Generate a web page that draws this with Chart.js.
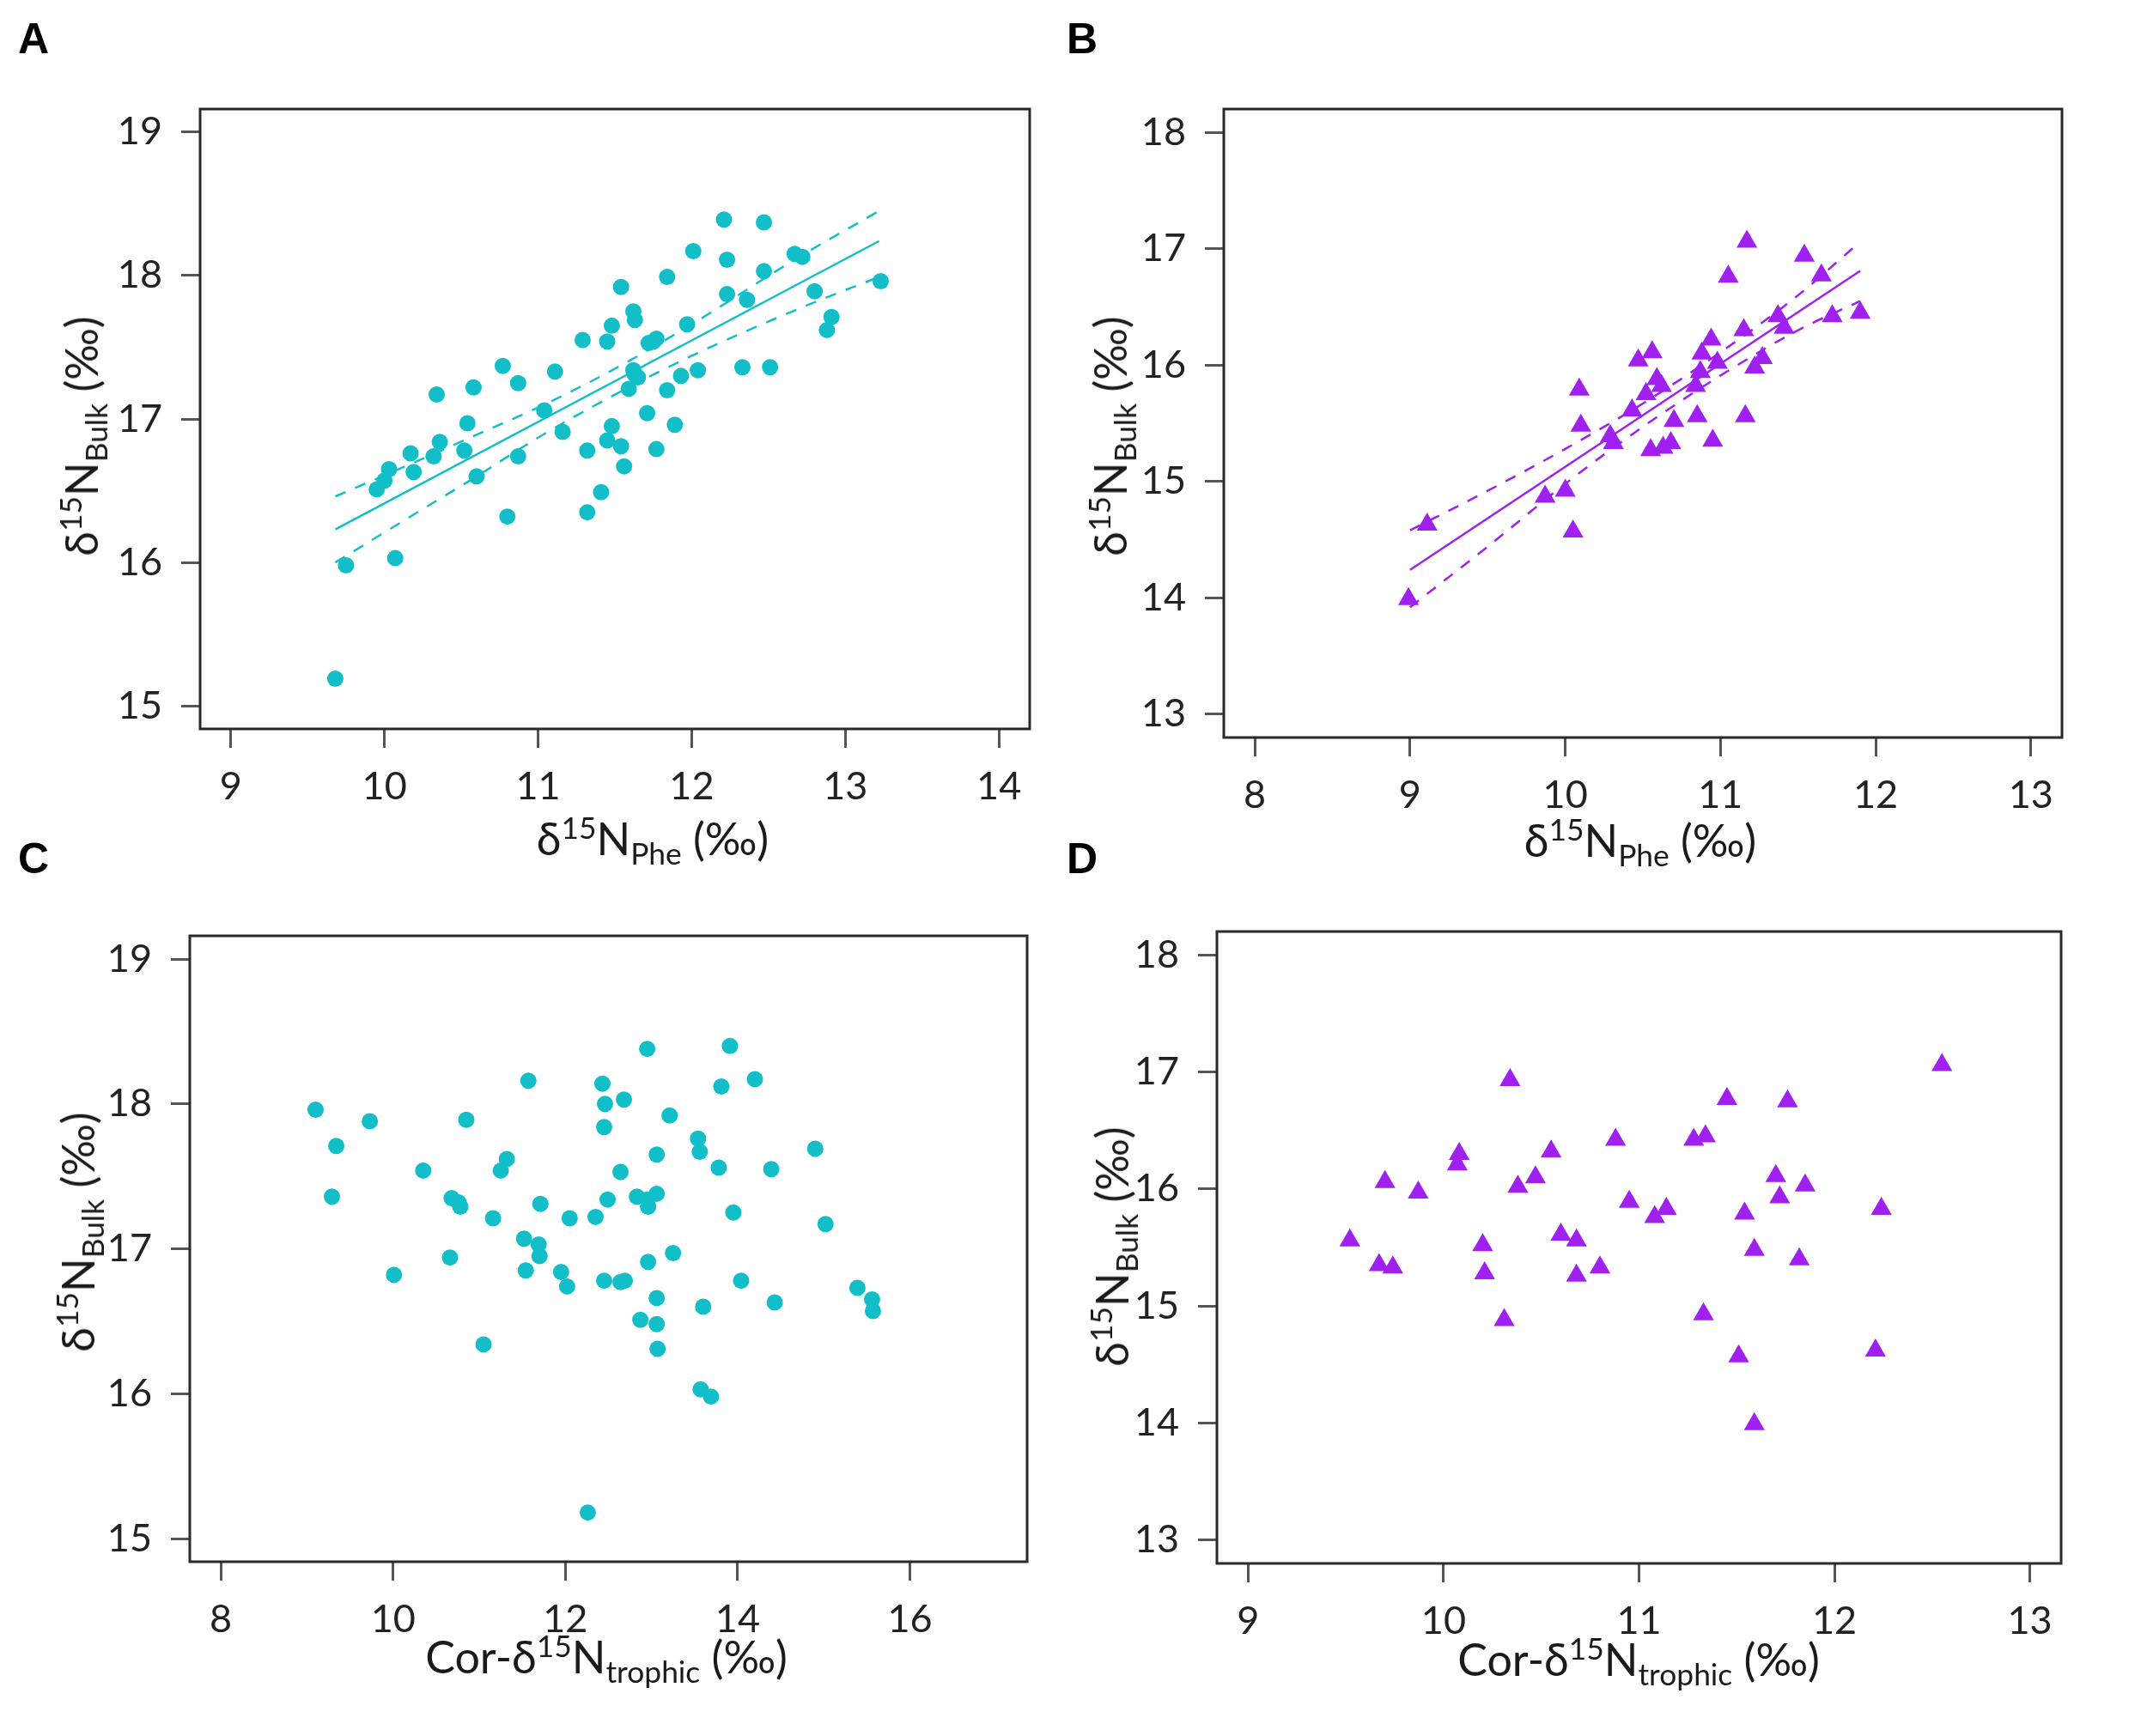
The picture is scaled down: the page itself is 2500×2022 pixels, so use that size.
<!DOCTYPE html>
<html>
<head>
<meta charset="utf-8">
<script src="https://cdn.jsdelivr.net/npm/chart.js@4.4.1/dist/chart.umd.min.js"></script>
<style>
html, body { margin: 0; padding: 0; background: #fff; overflow: hidden; }
#fig { position: relative; width: 2500px; height: 2022px; }
#fig canvas { position: absolute; left: 0; top: 0; }
.lab { position: absolute; font: bold 50px "Liberation Sans", Arial, sans-serif; line-height: 1; color: #000; }
.xt, .yt { position: absolute; font: 52px Lato, "Noto Sans", sans-serif; line-height: 1; color: #1a1a1a; white-space: nowrap; }
.xt { transform: translateX(-50%); }
.yt { transform: translate(-50%, -50%) rotate(-90deg); }
sup, sub { font-size: 0.68em; line-height: 0; }
sup { vertical-align: 0.55em; }
sub { vertical-align: -0.3em; }
</style>
</head>
<body>
<div id="fig">
  <canvas id="cA" width="2500" height="2022" style="width:2500px;height:2022px"></canvas>
  <canvas id="cB" width="2500" height="2022" style="width:2500px;height:2022px"></canvas>
  <canvas id="cC" width="2500" height="2022" style="width:2500px;height:2022px"></canvas>
  <canvas id="cD" width="2500" height="2022" style="width:2500px;height:2022px"></canvas>

  <div class="lab" style="left:21px;top:20px">A</div>
  <div class="lab" style="left:1242px;top:20px">B</div>
  <div class="lab" style="left:21px;top:975px">C</div>
  <div class="lab" style="left:1242px;top:975px">D</div>

  <div class="xt" style="left:760px;top:950px">δ<sup>15</sup>N<sub>Phe</sub> (‰)</div>
  <div class="xt" style="left:1910px;top:952px">δ<sup>15</sup>N<sub>Phe</sub> (‰)</div>
  <div class="xt" style="left:706px;top:1903px">Cor-δ<sup>15</sup>N<sub>trophic</sub> (‰)</div>
  <div class="xt" style="left:1908px;top:1906px">Cor-δ<sup>15</sup>N<sub>trophic</sub> (‰)</div>

  <div class="yt" style="left:94px;top:508px">δ<sup>15</sup>N<sub>Bulk</sub> (‰)</div>
  <div class="yt" style="left:1292px;top:508px">δ<sup>15</sup>N<sub>Bulk</sub> (‰)</div>
  <div class="yt" style="left:90px;top:1435px">δ<sup>15</sup>N<sub>Bulk</sub> (‰)</div>
  <div class="yt" style="left:1294px;top:1452px">δ<sup>15</sup>N<sub>Bulk</sub> (‰)</div>
</div>

<script>
// Panel A: bulk vs Phe (circles)
var aPheX = [9.68, 9.75, 9.95, 10.00, 10.03, 10.07, 10.17, 10.19, 10.32, 10.34, 10.36, 10.52, 10.54, 10.58, 10.60,
  10.77, 10.80, 10.87, 10.87, 11.04, 11.11, 11.16, 11.29, 11.32, 11.32, 11.41, 11.45, 11.45, 11.48, 11.48,
  11.54, 11.54, 11.56, 11.59, 11.62, 11.63, 11.65, 11.62, 11.63, 11.71, 11.72, 11.75, 11.77, 11.77, 11.84,
  11.84, 11.89, 11.93, 11.97, 12.01, 12.04, 12.21, 12.23, 12.23, 12.33, 12.36, 12.47, 12.47, 12.51, 12.67,
  12.72, 12.80, 12.88, 12.91, 13.23];
var aBulkY = [15.19, 15.98, 16.51, 16.57, 16.65, 16.03, 16.76, 16.63, 16.74, 17.17, 16.84, 16.78, 16.97, 17.22, 16.60,
  17.37, 16.32, 17.25, 16.74, 17.06, 17.33, 16.91, 17.55, 16.78, 16.35, 16.49, 17.54, 16.85, 17.65, 16.95,
  17.92, 16.81, 16.67, 17.21, 17.34, 17.31, 17.29, 17.75, 17.69, 17.04, 17.53, 17.54, 17.56, 16.79, 17.20,
  17.99, 16.96, 17.30, 17.66, 18.17, 17.34, 18.39, 18.11, 17.87, 17.36, 17.83, 18.37, 18.03, 17.36, 18.15,
  18.13, 17.89, 17.62, 17.71, 17.96];
// regression line and dashed confidence band
var aFitX = [9.68, 13.22];
var aFitY = [16.23, 18.24];
var aBandX = [9.68, 10.2, 10.6, 11.0, 11.5, 12.0, 12.7, 13.22];
var aUpperY = [16.46, 16.70, 16.89, 17.08, 17.35, 17.66, 18.13, 18.45];
var aLowerY = [16.00, 16.34, 16.60, 16.87, 17.17, 17.44, 17.77, 17.99];

// Panel B: bulk vs Phe (triangles)
var bPheX = [8.99, 9.11, 9.87, 10.00, 10.05, 10.09, 10.10, 10.29, 10.31, 10.43, 10.47, 10.52, 10.56, 10.55, 10.59,
  10.62, 10.63, 10.68, 10.70, 10.84, 10.85, 10.87, 10.88, 10.94, 10.95, 10.98, 11.05, 11.15, 11.16, 11.17,
  11.22, 11.27, 11.37, 11.41, 11.54, 11.65, 11.72, 11.90];
var bBulkY = [13.99, 14.63, 14.87, 14.92, 14.57, 15.79, 15.48, 15.39, 15.33, 15.61, 16.04, 15.75, 16.11, 15.27, 15.88,
  15.82, 15.29, 15.33, 15.52, 15.82, 15.56, 15.94, 16.10, 16.22, 15.35, 16.02, 16.76, 16.30, 15.56, 17.06,
  15.98, 16.06, 16.42, 16.32, 16.94, 16.77, 16.42, 16.45];
var bFitX = [9.0, 11.9];
var bFitY = [14.24, 16.81];
var bBandX = [9.0, 9.5, 10.0, 10.5, 11.0, 11.5, 11.9];
var bUpperY = [14.58, 14.92, 15.28, 15.67, 16.11, 16.60, 17.06];
var bLowerY = [13.92, 14.44, 14.98, 15.47, 15.91, 16.30, 16.55];

// Panel C: bulk vs corrected trophic (circles)
var cTrophicX = [9.10, 9.34, 9.29, 9.73, 10.01, 10.35, 10.66, 10.68, 10.76, 10.78, 10.85, 11.05, 11.16, 11.25, 11.32,
  11.52, 11.54, 11.57, 11.69, 11.70, 11.71, 11.95, 12.02, 12.05, 12.26, 12.35, 12.43, 12.45, 12.46, 12.45,
  12.49, 12.64, 12.64, 12.69, 12.68, 12.83, 12.87, 12.95, 12.95, 12.96, 12.96, 13.06, 13.06, 13.06, 13.06,
  13.07, 13.21, 13.25, 13.54, 13.56, 13.57, 13.60, 13.69, 13.78, 13.81, 13.91, 13.95, 14.04, 14.20, 14.39,
  14.43, 14.90, 15.02, 15.39, 15.56, 15.57];
var cBulkY = [17.96, 17.71, 17.36, 17.88, 16.82, 17.54, 16.94, 17.35, 17.32, 17.29, 17.89, 16.34, 17.21, 17.54, 17.62,
  17.07, 16.85, 18.16, 17.03, 16.95, 17.31, 16.84, 16.74, 17.21, 15.18, 17.22, 18.14, 16.78, 18.00, 17.84,
  17.34, 17.53, 16.77, 16.78, 18.03, 17.36, 16.51, 18.38, 17.34, 17.29, 16.91, 17.38, 17.65, 16.66, 16.48,
  16.31, 17.92, 16.97, 17.76, 17.67, 16.03, 16.60, 15.98, 17.56, 18.12, 18.40, 17.25, 16.78, 18.17, 17.55,
  16.63, 17.69, 17.17, 16.73, 16.65, 16.57];

// Panel D: bulk vs corrected trophic (triangles)
var dTrophicX = [9.52, 9.67, 9.74, 9.70, 9.87, 10.08, 10.07, 10.20, 10.21, 10.31, 10.34, 10.38, 10.47, 10.55, 10.60,
  10.68, 10.68, 10.80, 10.88, 10.95, 11.08, 11.14, 11.28, 11.34, 11.33, 11.45, 11.51, 11.54, 11.59, 11.59,
  11.70, 11.72, 11.76, 11.82, 11.85, 12.21, 12.24, 12.55];
var dBulkY = [15.56, 15.35, 15.33, 16.06, 15.97, 16.30, 16.21, 15.52, 15.28, 14.88, 16.93, 16.02, 16.10, 16.32, 15.61,
  15.56, 15.26, 15.33, 16.42, 15.89, 15.76, 15.83, 16.42, 16.45, 14.93, 16.77, 14.57, 15.79, 15.48, 13.99,
  16.11, 15.93, 16.75, 15.40, 16.03, 14.62, 15.83, 17.06];

// tick labels
var aXTicks = [9, 10, 11, 12, 13, 14];
var aYTicks = [15, 16, 17, 18, 19];
var bXTicks = [8, 9, 10, 11, 12, 13];
var bYTicks = [13, 14, 15, 16, 17, 18];
var cXTicks = [8, 10, 12, 14, 16];
var cYTicks = [15, 16, 17, 18, 19];
var dXTicks = [9, 10, 11, 12, 13];
var dYTicks = [13, 14, 15, 16, 17, 18];

var cyan = '#12BFC8';
var purple = '#A020F0';
var figW = 2500, figH = 2022;
var yW = 150, xH = 130;

function pts(xs, ys) {
  return xs.map(function (x, i) { return { x: x, y: ys[i] }; });
}

// box round the plot region
var frame = {
  id: 'frame',
  afterDraw: function (chart) {
    var a = chart.chartArea, c = chart.ctx;
    c.save();
    c.strokeStyle = '#2a2a2a';
    c.lineWidth = 3;
    c.strokeRect(a.left, a.top, a.right - a.left, a.bottom - a.top);
    c.restore();
  }
};

function axis(min, max, ticks, pos) {
  return {
    type: 'linear', position: pos, min: min, max: max,
    afterBuildTicks: function (s) { s.ticks = ticks.map(function (v) { return { value: v }; }); },
    afterFit: function (s) {
      if (pos === 'bottom') { s.height = xH; } else { s.width = yW; }
      s.paddingLeft = 0; s.paddingRight = 0; s.paddingTop = 0; s.paddingBottom = 0;
    },
    ticks: { font: { family: 'Lato', size: 45 }, color: '#222', padding: pos === 'bottom' ? 18 : 22, maxRotation: 0, autoSkip: false },
    grid: { drawOnChartArea: false, drawTicks: true, tickLength: 22, tickWidth: 3, tickColor: '#555' },
    border: { display: false }
  };
}

function panel(id, box, lim, xTicks, yTicks, xs, ys, color, style, r, fit) {
  var datasets = [];
  if (fit) {
    datasets.push({ data: pts(fit.x, fit.y), showLine: true, pointRadius: 0, borderColor: color, borderWidth: 2.5 });
    datasets.push({ data: pts(fit.bx, fit.up), showLine: true, pointRadius: 0, borderColor: color, borderWidth: 2.5, borderDash: [13, 12], cubicInterpolationMode: 'monotone' });
    datasets.push({ data: pts(fit.bx, fit.lo), showLine: true, pointRadius: 0, borderColor: color, borderWidth: 2.5, borderDash: [13, 12], cubicInterpolationMode: 'monotone' });
  }
  datasets.push({ data: pts(xs, ys), pointStyle: style, pointRadius: r, pointBackgroundColor: color, pointBorderWidth: 0, borderWidth: 0 });

  new Chart(document.getElementById(id), {
    type: 'scatter',
    data: { datasets: datasets },
    options: {
      responsive: false, animation: false, devicePixelRatio: 1,
      layout: { padding: { left: box.l - yW, right: figW - box.r, top: box.t, bottom: figH - box.b - xH } },
      plugins: { legend: { display: false }, tooltip: { enabled: false } },
      scales: {
        x: axis(lim[0], lim[1], xTicks, 'bottom'),
        y: axis(lim[2], lim[3], yTicks, 'left')
      }
    },
    plugins: [frame]
  });
}

panel('cA', { l: 233, r: 1199, t: 127, b: 849 }, [8.8, 14.2, 14.84, 19.16], aXTicks, aYTicks,
  aPheX, aBulkY, cyan, 'circle', 9.5, { x: aFitX, y: aFitY, bx: aBandX, up: aUpperY, lo: aLowerY });
panel('cB', { l: 1425, r: 2401, t: 127, b: 859 }, [7.8, 13.2, 12.8, 18.2], bXTicks, bYTicks,
  bPheX, bBulkY, purple, 'triangle', 14, { x: bFitX, y: bFitY, bx: bBandX, up: bUpperY, lo: bLowerY });
panel('cC', { l: 221, r: 1196, t: 1090, b: 1819 }, [7.64, 17.36, 14.84, 19.16], cXTicks, cYTicks,
  cTrophicX, cBulkY, cyan, 'circle', 9.5, null);
panel('cD', { l: 1417, r: 2400, t: 1085, b: 1821 }, [8.84, 13.16, 12.8, 18.2], dXTicks, dYTicks,
  dTrophicX, dBulkY, purple, 'triangle', 14, null);
</script>
</body>
</html>
